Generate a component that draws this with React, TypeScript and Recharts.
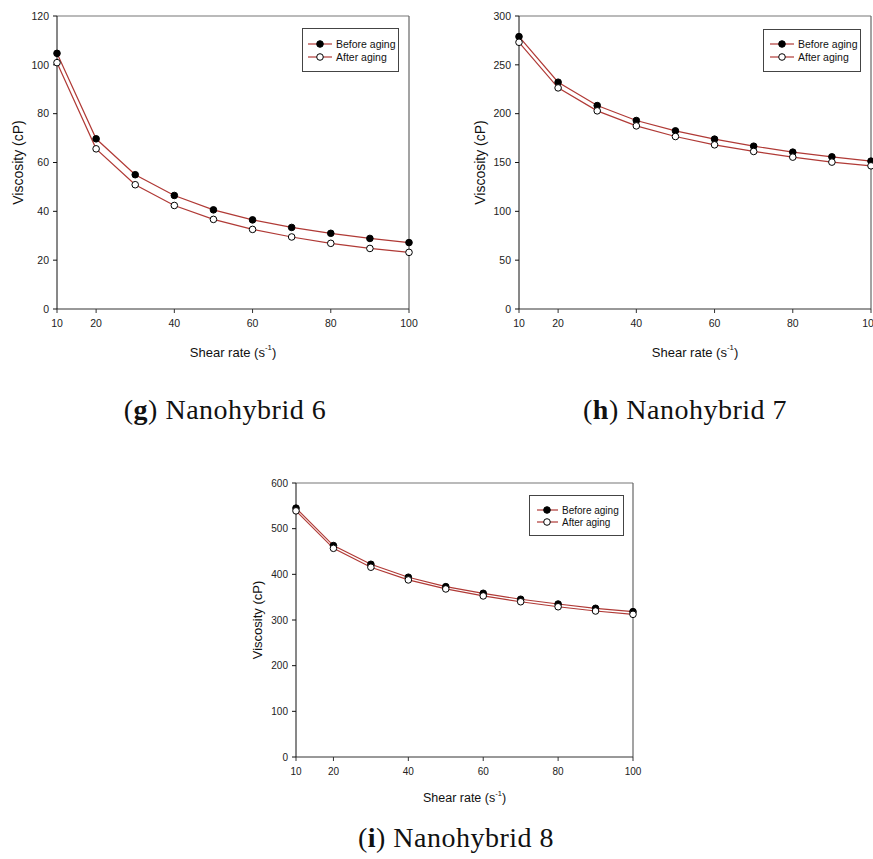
import { LineChart, Line, XAxis, YAxis, Legend, ReferenceLine, Label } from 'recharts'

const shearRates = [10, 20, 30, 40, 50, 60, 70, 80, 90, 100]
const xTicks = [10, 20, 40, 60, 80, 100]

// Nanohybrid 6
const beforeG = [104.7, 69.7, 55.0, 46.5, 40.6, 36.5, 33.4, 31.0, 28.9, 27.2]
const afterG = [100.9, 65.6, 50.9, 42.4, 36.7, 32.6, 29.5, 26.9, 24.8, 23.2]
const yTicksG = [0, 20, 40, 60, 80, 100, 120]

// Nanohybrid 7
const beforeH = [278.9, 232.2, 208.3, 193.0, 182.4, 173.9, 166.7, 160.6, 155.8, 151.4]
const afterH = [273.1, 226.4, 202.9, 187.5, 176.6, 168.1, 161.3, 155.5, 150.4, 146.6]
const yTicksH = [0, 50, 100, 150, 200, 250, 300]

// Nanohybrid 8
const beforeI = [545, 463, 422, 393.7, 373, 358.5, 345.4, 335, 325.6, 318.3]
const afterI = [539, 457, 415.6, 387.8, 368, 352.7, 340, 329, 319.7, 312.4]
const yTicksI = [0, 100, 200, 300, 400, 500, 600]

const seriesNames = ['Before aging', 'After aging']

const SANS = '"Liberation Sans", Arial, sans-serif'
const LINE_COLOR = '#b03a36'
const YW = 60
const TOP = 10
const RIGHT = 12
const XH = 60

type LegendBox = { left: number; top: number; w: number; h: number; rows: number[]; lineX: number[]; dotX: number; textX: number; font: number }

type ChartProps = {
  plot: { x0: number; x1: number; y0: number; y1: number }
  yTicks: number[]
  before: number[]
  after: number[]
  legend: LegendBox
  tickFont: number
  xLabelFont: number
  yLabelFont: number
  xLabelDy: number
}

function ViscosityChart({ plot, yTicks, before, after, legend, tickFont, xLabelFont, yLabelFont, xLabelDy }: ChartProps) {
  const pw = plot.x1 - plot.x0
  const ph = plot.y1 - plot.y0
  const left = plot.x0 - YW
  const top = plot.y0 - TOP
  const width = YW + pw + RIGHT
  const height = TOP + ph + XH
  const yMax = yTicks[yTicks.length - 1]
  const data = shearRates.map((x, i) => ({ x, before: before[i], after: after[i] }))

  const renderLegend = () => (
    <svg width={legend.w} height={legend.h} style={{ display: 'block' }}>
      <rect x={0.5} y={0.5} width={legend.w - 1} height={legend.h - 1} fill="#fff" stroke="#444" />
      {seriesNames.map((name, i) => (
        <g key={name}>
          <line x1={legend.lineX[0]} x2={legend.lineX[1]} y1={legend.rows[i]} y2={legend.rows[i]} stroke={LINE_COLOR} strokeWidth={1.2} />
          <circle cx={legend.dotX} cy={legend.rows[i]} r={3.3} fill={i === 0 ? '#000' : '#fff'} stroke="#000" />
          <text x={legend.textX} y={legend.rows[i]} dominantBaseline="central" fontFamily={SANS} fontSize={legend.font} fill="#111">
            {name}
          </text>
        </g>
      ))}
    </svg>
  )

  const yLabel = () => {
    const cx = YW - 39
    const cy = TOP + ph / 2
    return (
      <text x={cx} y={cy} transform={`rotate(-90 ${cx} ${cy})`} textAnchor="middle" dominantBaseline="central" fontFamily={SANS} fontSize={yLabelFont} fill="#111">
        Viscosity (cP)
      </text>
    )
  }

  const xLabel = () => (
    <text x={YW + pw / 2} y={TOP + ph + xLabelDy} textAnchor="middle" dominantBaseline="central" fontFamily={SANS} fontSize={xLabelFont} fill="#111">
      <tspan>Shear rate (s</tspan>
      <tspan dy={-5} fontSize={xLabelFont * 0.6}>-1</tspan>
      <tspan dy={5}>)</tspan>
    </text>
  )

  return (
    <div style={{ position: 'absolute', left, top, width, height }}>
      <LineChart width={width} height={height} data={data} margin={{ top: TOP, right: RIGHT, left: 0, bottom: 0 }}>
        <XAxis
          dataKey="x"
          type="number"
          domain={[10, 100]}
          ticks={xTicks}
          height={XH}
          stroke="#333"
          tickSize={4}
          tickMargin={7}
          tick={{ fill: '#222', fontSize: tickFont, fontFamily: SANS }}
        >
          <Label content={xLabel} />
        </XAxis>
        <YAxis
          type="number"
          domain={[0, yMax]}
          ticks={yTicks}
          width={YW}
          stroke="#111"
          tickSize={4}
          tickMargin={4}
          tick={{ fill: '#222', fontSize: tickFont, fontFamily: SANS }}
        >
          <Label content={yLabel} />
        </YAxis>
        <ReferenceLine y={yMax} stroke="#777" strokeWidth={1.2} />
        <ReferenceLine x={100} stroke="#666" strokeWidth={1.2} />
        <Line
          type="linear"
          dataKey="before"
          name={seriesNames[0]}
          stroke={LINE_COLOR}
          strokeWidth={1.2}
          dot={{ r: 3.3, fill: '#000', stroke: '#000', strokeWidth: 1 }}
          isAnimationActive={false}
        />
        <Line
          type="linear"
          dataKey="after"
          name={seriesNames[1]}
          stroke={LINE_COLOR}
          strokeWidth={1.2}
          dot={{ r: 3.3, fill: '#fff', stroke: '#000', strokeWidth: 1 }}
          isAnimationActive={false}
        />
        <Legend
          layout="vertical"
          align="center"
          verticalAlign="middle"
          content={renderLegend}
          wrapperStyle={{ left: legend.left - left, top: legend.top - top, width: legend.w, height: legend.h }}
        />
      </LineChart>
    </div>
  )
}

function Caption({ letter, text, cx, baseline }: { letter: string; text: string; cx: number; baseline: number }) {
  return (
    <div
      style={{
        position: 'absolute',
        left: cx - 160,
        top: baseline - 23.4,
        width: 320,
        textAlign: 'center',
        fontFamily: '"Liberation Serif", "Times New Roman", serif',
        fontSize: 28,
        lineHeight: '28px',
        letterSpacing: 0.5,
        color: '#111',
        whiteSpace: 'nowrap',
      }}
    >
      (<b>{letter}</b>) {text}
    </div>
  )
}

export default function App() {
  return (
    <div style={{ position: 'absolute', left: 0, top: 0, width: 873, height: 859, overflow: 'hidden', background: '#fff' }}>
      <ViscosityChart
        plot={{ x0: 57, x1: 409, y0: 16, y1: 309 }}
        yTicks={yTicksG}
        before={beforeG}
        after={afterG}
        legend={{ left: 302, top: 28, w: 97, h: 44, rows: [16, 29], lineX: [6, 30], dotX: 18, textX: 34, font: 10.5 }}
        tickFont={10.5}
        xLabelFont={13}
        yLabelFont={14}
        xLabelDy={43}
      />
      <ViscosityChart
        plot={{ x0: 519, x1: 871, y0: 16, y1: 309 }}
        yTicks={yTicksH}
        before={beforeH}
        after={afterH}
        legend={{ left: 763, top: 29, w: 98, h: 43, rows: [15, 28], lineX: [7, 31], dotX: 19, textX: 35, font: 10.5 }}
        tickFont={10.5}
        xLabelFont={13}
        yLabelFont={14}
        xLabelDy={43}
      />
      <ViscosityChart
        plot={{ x0: 296, x1: 633, y0: 483, y1: 757 }}
        yTicks={yTicksI}
        before={beforeI}
        after={afterI}
        legend={{ left: 529, top: 495, w: 95, h: 41, rows: [15, 27], lineX: [8, 29], dotX: 18, textX: 33, font: 10 }}
        tickFont={10}
        xLabelFont={12.5}
        yLabelFont={13}
        xLabelDy={41}
      />
      <Caption letter="g" text="Nanohybrid 6" cx={225} baseline={419} />
      <Caption letter="h" text="Nanohybrid 7" cx={685} baseline={419} />
      <Caption letter="i" text="Nanohybrid 8" cx={456} baseline={847} />
    </div>
  )
}
